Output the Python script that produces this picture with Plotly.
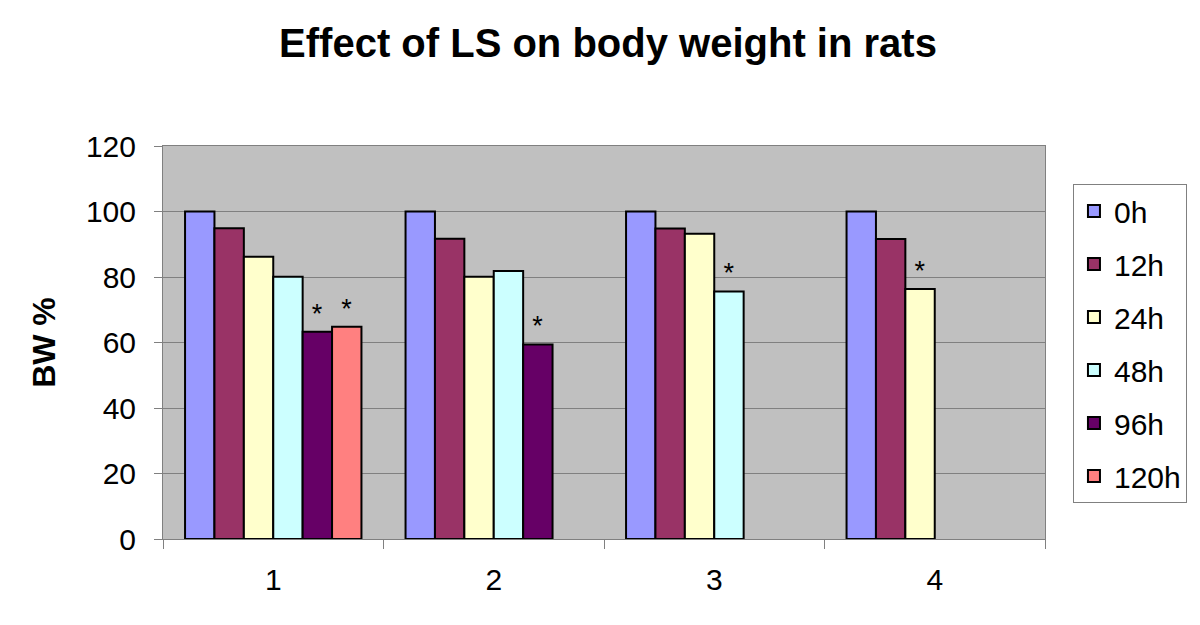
import plotly.graph_objects as go

categories = ["1", "2", "3", "4"]
series_names = ["0h", "12h", "24h", "48h", "96h", "120h"]
bw_0h = [100, 100, 100, 100]
bw_12h = [94.9, 91.7, 94.8, 91.6]
bw_24h = [86.2, 80.1, 93.2, 76.3]
bw_48h = [80.1, 81.8, 75.6, None]
bw_96h = [63.3, 59.4, None, None]
bw_120h = [64.8, None, None, None]
stars_0h = [None, None, None, None]
stars_12h = [None, None, None, None]
stars_24h = [None, None, None, "*"]
stars_48h = [None, None, "*", None]
stars_96h = ["*", "*", None, None]
stars_120h = ["*", None, None, None]
y_ticks = [0, 20, 40, 60, 80, 100, 120]

values = [bw_0h, bw_12h, bw_24h, bw_48h, bw_96h, bw_120h]
stars = [stars_0h, stars_12h, stars_24h, stars_48h, stars_96h, stars_120h]
colors = ["#9999FF", "#993366", "#FFFFCC", "#CCFFFF", "#660066", "#FF8080"]

FONT = "Liberation Sans, Arial, Helvetica"

fig = go.Figure()
for name, vals, st, col in zip(series_names, values, stars, colors):
    fig.add_trace(go.Bar(
        x=categories, y=vals, name=name, legendgroup=name,
        marker=dict(color=col, line=dict(color="black", width=2)),
        text=st, textposition="outside", cliponaxis=False,
        textfont=dict(family=FONT, size=27, color="black"),
    ))

fig.update_layout(
    width=1200, height=625,
    barmode="group", bargap=0.2, bargroupgap=0,
    paper_bgcolor="white", plot_bgcolor="#C0C0C0",
    margin=dict(l=155, r=163, t=138, b=94),
    font=dict(family=FONT, size=30, color="black"),
    title=dict(text="<b>Effect of LS on body weight in rats</b>", x=0.5, xanchor="center",
               y=0.944, yanchor="middle", font=dict(size=40, color="black")),
    legend=dict(x=1.0317, y=0.903, xanchor="left", yanchor="top",
                bordercolor="#808080", borderwidth=1, bgcolor="white",
                tracegroupgap=11, font=dict(size=30)),
    showlegend=True,
)
fig.update_xaxes(
    type="category", showline=True, linecolor="#808080", linewidth=1, mirror=True,
    ticks="outside", tickson="boundaries", ticklen=9, tickcolor="#808080",
    showgrid=False, tickfont=dict(size=30), ticklabelstandoff=14,
)
fig.update_yaxes(
    range=[0, 120], tickvals=y_ticks, showline=True, linecolor="#808080", linewidth=1, mirror=True,
    ticks="outside", ticklen=8, tickcolor="#808080", gridcolor="#808080", gridwidth=1,
    tickfont=dict(size=30), zeroline=False, ticklabelstandoff=12,
    title=dict(text="<b>BW %</b>", font=dict(size=32), standoff=20),
)
fig.write_html("out.html")
